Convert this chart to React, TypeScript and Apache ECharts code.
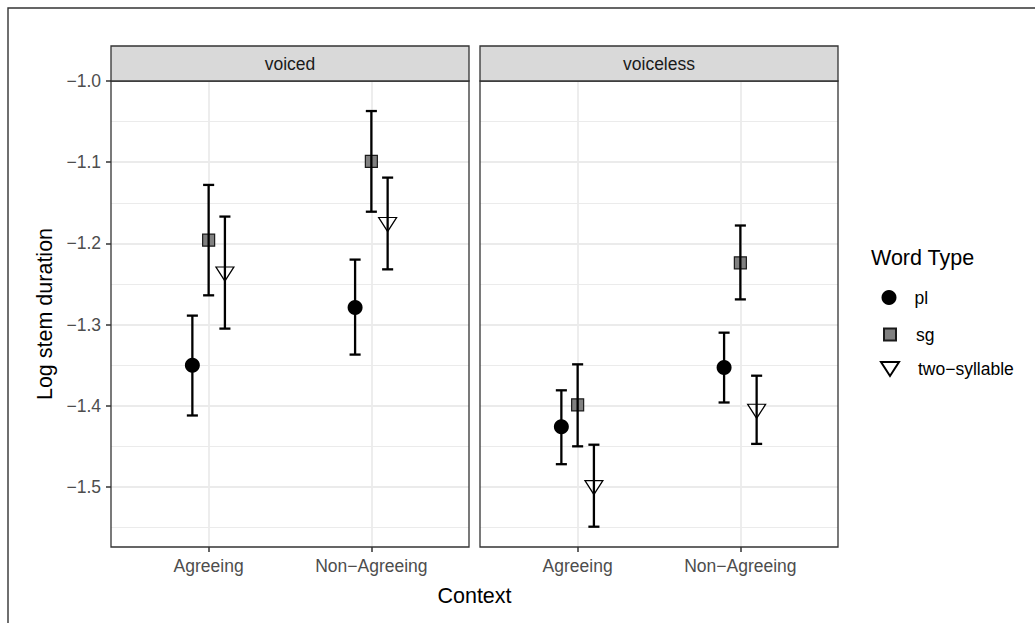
import React, { useEffect, useRef } from "react";
import * as echarts from "echarts";

// Facets, x categories and legend entries
const panels = ["voiced", "voiceless"];
const contexts = ["Agreeing", "Non\u2212Agreeing"];
const wordTypes = ["pl", "sg", "two\u2212syllable"];

// Log stem duration: mean and error-bar limits per context (Agreeing, Non-Agreeing)
const voicedPlMean = [-1.35, -1.279];
const voicedPlLow = [-1.412, -1.337];
const voicedPlHigh = [-1.289, -1.22];
const voicedSgMean = [-1.196, -1.099];
const voicedSgLow = [-1.264, -1.161];
const voicedSgHigh = [-1.128, -1.037];
const voicedTwoMean = [-1.235, -1.174];
const voicedTwoLow = [-1.305, -1.232];
const voicedTwoHigh = [-1.167, -1.119];

const voicelessPlMean = [-1.426, -1.353];
const voicelessPlLow = [-1.472, -1.396];
const voicelessPlHigh = [-1.381, -1.31];
const voicelessSgMean = [-1.399, -1.224];
const voicelessSgLow = [-1.45, -1.269];
const voicelessSgHigh = [-1.349, -1.178];
const voicelessTwoMean = [-1.498, -1.404];
const voicelessTwoLow = [-1.549, -1.447];
const voicelessTwoHigh = [-1.448, -1.363];

// Axis ticks
const yMajorTicks = [-1.5, -1.4, -1.3, -1.2, -1.1, -1.0];
const yMinorTicks = [-1.55, -1.45, -1.35, -1.25, -1.15, -1.05];

const FONT = "'Liberation Sans', Arial, Helvetica, sans-serif";
const TRI_DOWN = "path://M0,0L20,0L10,15.5Z";
const SMALL = 17.5;
const LARGE = 21.5;

const panelData = [
  {
    mean: [voicedPlMean, voicedSgMean, voicedTwoMean],
    low: [voicedPlLow, voicedSgLow, voicedTwoLow],
    high: [voicedPlHigh, voicedSgHigh, voicedTwoHigh],
  },
  {
    mean: [voicelessPlMean, voicelessSgMean, voicelessTwoMean],
    low: [voicelessPlLow, voicelessSgLow, voicelessTwoLow],
    high: [voicelessPlHigh, voicelessSgHigh, voicelessTwoHigh],
  },
];

// dodge positions of the three word types around each category
const dodge = [-0.1, 0, 0.1];

const markerStyle = [
  { symbol: "circle", symbolSize: 15, symbolOffset: [0, 0], itemStyle: { color: "#000", borderColor: "#000", borderWidth: 0, opacity: 1 } },
  { symbol: "rect", symbolSize: 12, symbolOffset: [0, 0], itemStyle: { color: "#808080", borderColor: "#1a1a1a", borderWidth: 1.2, opacity: 1 } },
  { symbol: TRI_DOWN, symbolSize: [18, 14], symbolOffset: [0, 2.3], itemStyle: { color: "#ffffff", borderColor: "#000", borderWidth: 1.2, opacity: 1 } },
];

const GRID_TOP = 81;
const GRID_H = 466;
const GRID_W = 358;
const gridLefts = [111, 480];

function App() {
  const ref = useRef<HTMLDivElement>(null);

  useEffect(() => {
    if (!ref.current) return;
    const chart = echarts.init(ref.current, null, { renderer: "svg" });

    const grids: any[] = [];
    const xAxes: any[] = [];
    const yAxes: any[] = [];
    const series: any[] = [];
    const graphics: any[] = [];

    panels.forEach((panel, p) => {
      grids.push({ left: gridLefts[p], top: GRID_TOP, width: GRID_W, height: GRID_H, show: false });

      xAxes.push({
        type: "value",
        gridIndex: p,
        min: 0.4,
        max: 2.6,
        axisLine: { show: false },
        axisTick: { show: true, customValues: [1, 2], length: 5, lineStyle: { color: "#333", width: 1.5 } },
        axisLabel: {
          customValues: [1, 2],
          formatter: (v: number) => contexts[Math.round(v) - 1] ?? "",
          color: "#4d4d4d",
          fontSize: SMALL,
          fontFamily: FONT,
          margin: 10,
        },
        splitLine: { show: true, lineStyle: { color: "#ebebeb", width: 1.8 } },
      });

      // major gridlines, ticks and labels
      yAxes.push({
        type: "value",
        gridIndex: p,
        min: -1.574,
        max: -1.0,
        name: p === 0 ? "Log stem duration" : "",
        nameLocation: "middle",
        nameGap: 55,
        nameTextStyle: { color: "#000", fontSize: LARGE, fontFamily: FONT },
        axisLine: { show: false },
        axisTick: { show: p === 0, customValues: yMajorTicks, length: 5, lineStyle: { color: "#333", width: 1.5 } },
        axisLabel: {
          show: p === 0,
          customValues: yMajorTicks,
          formatter: (v: number) => (v < 0 ? "\u2212" : "") + Math.abs(v).toFixed(1),
          color: "#4d4d4d",
          fontSize: SMALL,
          fontFamily: FONT,
          margin: 10,
        },
        splitLine: { show: true, lineStyle: { color: "#ebebeb", width: 1.8 } },
        z: 1,
      });
      // minor gridlines
      yAxes.push({
        type: "value",
        gridIndex: p,
        min: -1.574,
        max: -1.0,
        axisLine: { show: false },
        axisTick: { show: false, customValues: yMinorTicks },
        axisLabel: { show: false, customValues: yMinorTicks },
        splitLine: { show: true, lineStyle: { color: "#ebebeb", width: 1.1 } },
        z: 0,
      });

      const d = panelData[p];
      wordTypes.forEach((wt, t) => {
        const m = markerStyle[t];
        series.push({
          type: "scatter",
          name: wt,
          xAxisIndex: p,
          yAxisIndex: p * 2,
          symbol: m.symbol,
          symbolSize: m.symbolSize,
          symbolOffset: m.symbolOffset,
          itemStyle: m.itemStyle,
          data: d.mean[t].map((v, c) => [c + 1 + dodge[t], v]),
          z: 3,
          silent: true,
        });
      });

      const barData: number[][] = [];
      wordTypes.forEach((_, t) => {
        d.mean[t].forEach((_, c) => {
          barData.push([c + 1 + dodge[t], d.low[t][c], d.high[t][c]]);
        });
      });
      series.push({
        type: "custom",
        name: "errorbars-" + panel,
        xAxisIndex: p,
        yAxisIndex: p * 2,
        z: 4,
        silent: true,
        encode: { x: 0, y: [1, 2] },
        data: barData,
        renderItem: (params: any, api: any) => {
          const x = api.value(0);
          const top = api.coord([x, api.value(2)]);
          const bot = api.coord([x, api.value(1)]);
          const half = api.size([0.034, 0])[0];
          const st = { stroke: "#000", lineWidth: 2.3 };
          return {
            type: "group",
            children: [
              { type: "line", shape: { x1: top[0], y1: top[1], x2: bot[0], y2: bot[1] }, style: st },
              { type: "line", shape: { x1: top[0] - half, y1: top[1], x2: top[0] + half, y2: top[1] }, style: st },
              { type: "line", shape: { x1: bot[0] - half, y1: bot[1], x2: bot[0] + half, y2: bot[1] }, style: st },
            ],
          };
        },
      });

      // panel frame and facet strip
      graphics.push({
        type: "rect",
        shape: { x: gridLefts[p], y: GRID_TOP, width: GRID_W, height: GRID_H },
        style: { fill: "none", stroke: "#333", lineWidth: 1.3 },
        z: 100,
      });
      graphics.push({
        type: "rect",
        shape: { x: gridLefts[p], y: 46, width: GRID_W, height: GRID_TOP - 46 },
        style: { fill: "#d9d9d9", stroke: "#333", lineWidth: 1.3 },
        z: 100,
      });
      graphics.push({
        type: "text",
        x: gridLefts[p] + GRID_W / 2,
        y: 64,
        style: { text: panel, fill: "#1a1a1a", font: `${SMALL}px ${FONT}`, textAlign: "center", textVerticalAlign: "middle" },
        z: 101,
      });
    });

    // x-axis title and legend title
    graphics.push({
      type: "text",
      x: (gridLefts[0] + gridLefts[1] + GRID_W) / 2,
      y: 596,
      style: { text: "Context", fill: "#000", font: `${LARGE}px ${FONT}`, textAlign: "center", textVerticalAlign: "middle" },
      z: 101,
    });
    graphics.push({
      type: "text",
      x: 871,
      y: 258,
      style: { text: "Word Type", fill: "#000", font: `${LARGE}px ${FONT}`, textAlign: "left", textVerticalAlign: "middle" },
      z: 101,
    });
    // outer frame
    graphics.push({
      type: "polyline",
      shape: { points: [[8, 623], [8, 8], [1035, 8]] },
      style: { fill: "none", stroke: "#333", lineWidth: 1.4 },
      z: 101,
    });

    const legendBase = {
      orient: "vertical",
      padding: 0,
      selectedMode: false,
      textStyle: { color: "#000", fontSize: SMALL, fontFamily: FONT },
    };
    const legends = [
      { ...legendBase, data: [{ name: wordTypes[0], icon: "circle" }], left: 881.5, top: 288.5, itemWidth: 15, itemHeight: 15, textStyle: { ...legendBase.textStyle, padding: [0, 0, 0, 13] } },
      { ...legendBase, data: [{ name: wordTypes[1], icon: "rect" }], left: 883, top: 325.5, itemWidth: 12, itemHeight: 12, textStyle: { ...legendBase.textStyle, padding: [0, 0, 0, 15] } },
      { ...legendBase, data: [{ name: wordTypes[2], icon: TRI_DOWN }], left: 880, top: 360, itemWidth: 18, itemHeight: 14, textStyle: { ...legendBase.textStyle, padding: [0, 0, 0, 14] } },
    ];

    chart.setOption({
      animation: false,
      backgroundColor: "#ffffff",
      grid: grids,
      xAxis: xAxes,
      yAxis: yAxes,
      legend: legends,
      series,
      graphic: graphics,
    });

    return () => chart.dispose();
  }, []);

  return <div ref={ref} style={{ position: "absolute", left: 0, top: 0, width: 1035, height: 623 }} />;
}

export default App;
